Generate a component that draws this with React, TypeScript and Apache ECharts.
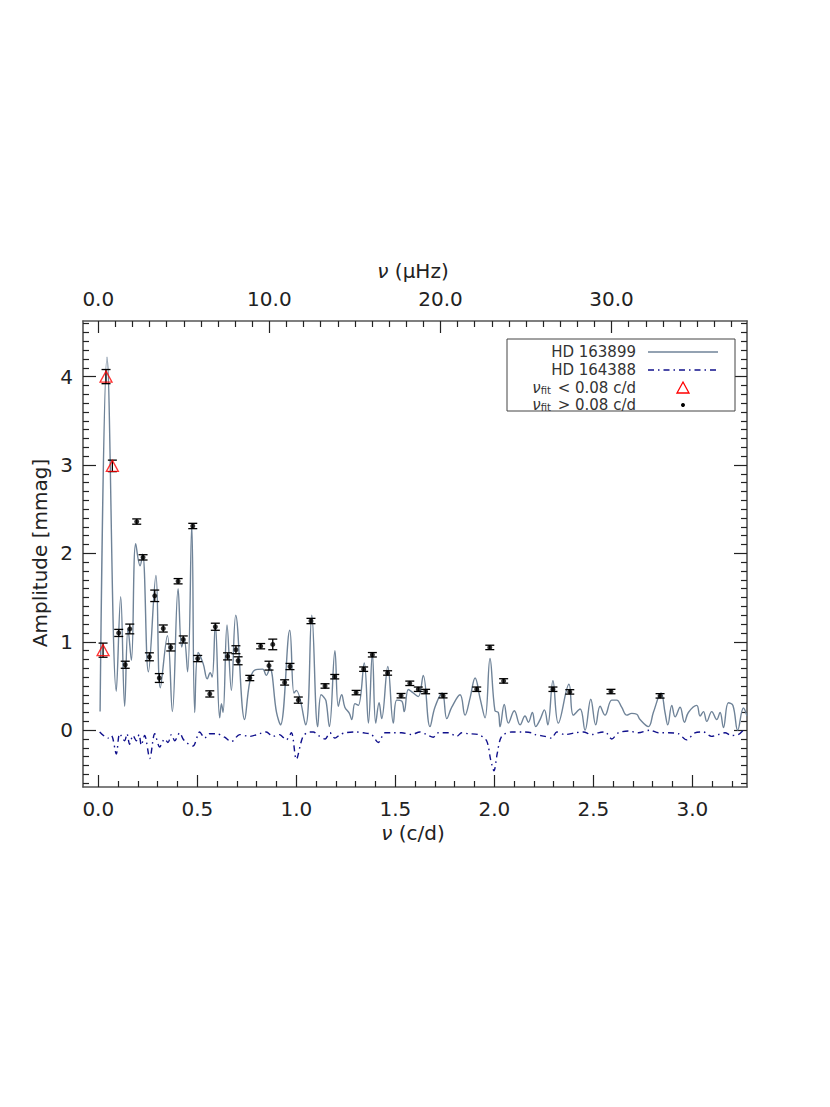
import React, { useEffect, useRef } from "react";
import * as echarts from "echarts";

// ---------- data ----------
// HD 163899 amplitude spectrum (frequency c/d, amplitude mmag)
const SPEC_FREQ = [
  0.009, 0.044, 0.091, 0.113, 0.133, 0.15, 0.167, 0.189, 0.211, 0.224,
  0.253, 0.291, 0.313, 0.349, 0.374, 0.403, 0.421, 0.433, 0.451, 0.472,
  0.487, 0.504, 0.53, 0.55, 0.565, 0.575, 0.591, 0.613, 0.622, 0.63,
  0.65, 0.672, 0.694, 0.739, 0.765, 0.79, 0.83, 0.848, 0.866, 0.9,
  0.92, 0.967, 0.988, 1.0, 1.047, 1.078, 1.108, 1.125, 1.14, 1.15,
  1.167, 1.195, 1.212, 1.229, 1.245, 1.268, 1.28, 1.296, 1.313, 1.343,
  1.364, 1.384, 1.401, 1.418, 1.431, 1.462, 1.49, 1.507, 1.532, 1.545,
  1.566, 1.591, 1.616, 1.641, 1.675, 1.7, 1.737, 1.76, 1.785, 1.827,
  1.852, 1.877, 1.903, 1.928, 1.953, 1.978, 2.003, 2.02, 2.029, 2.05,
  2.071, 2.101, 2.13, 2.155, 2.172, 2.192, 2.209, 2.231, 2.253, 2.27,
  2.296, 2.323, 2.377, 2.399, 2.433, 2.458, 2.487, 2.512, 2.534, 2.559,
  2.593, 2.618, 2.643, 2.669, 2.694, 2.719, 2.736, 2.778, 2.803, 2.842,
  2.862, 2.876, 2.896, 2.913, 2.938, 2.96, 2.98, 3.022, 3.039, 3.056,
  3.073, 3.098, 3.123, 3.14, 3.157, 3.182, 3.205, 3.229, 3.258, 3.276,
];
const SPEC_AMP = [
  0.21, 4.22, 0.44, 1.51, 0.27, 1.15, 0.79, 2.11, 1.86, 1.99,
  0.66, 1.75, 0.48, 1.07, 0.21, 1.6, 0.94, 1.04, 0.66, 2.32,
  0.2, 0.88, 0.75, 0.58, 0.65, 0.6, 1.2, 0.14, 0.3, 0.2,
  1.19, 0.45, 1.3, 0.12, 0.55, 0.68, 0.69, 0.62, 0.7, 0.2,
  0.06, 1.13, 0.42, 0.45, 0.06, 1.3, 0.04, 0.4, 0.37, 0.33,
  0.04, 0.9, 0.27, 0.4, 0.26, 0.19, 0.12, 0.3, 0.28, 0.76,
  0.08, 0.87, 0.08, 0.31, 0.13, 0.72, 0.08, 0.34, 0.33, 0.21,
  0.46, 0.42, 0.38, 0.62, 0.04, 0.26, 0.42, 0.13, 0.26, 0.4,
  0.17, 0.36, 0.59, 0.36, 0.14, 0.81, 0.22, 0.2, 0.04, 0.29,
  0.08, 0.22, 0.06, 0.16, 0.09, 0.2, 0.04, 0.12, 0.23, 0.06,
  0.56, 0.08, 0.52, 0.17, 0.24, 0.0, 0.35, 0.06, 0.27, 0.17,
  0.34, 0.34, 0.26, 0.17, 0.19, 0.18, 0.12, 0.04, 0.2, 0.42,
  0.2, 0.06, 0.28, 0.15, 0.26, 0.09, 0.2, 0.28, 0.16, 0.21,
  0.1, 0.21, 0.12, 0.2, 0.03, 0.31, 0.28, 0.0, 0.25, 0.16,
];

// HD 164388 comparison spectrum (plotted negative)
const REF_FREQ = [
  0.007, 0.049, 0.066, 0.091, 0.108, 0.133, 0.145, 0.158, 0.175, 0.192,
  0.206, 0.217, 0.234, 0.26, 0.285, 0.31, 0.335, 0.352, 0.369, 0.386,
  0.411, 0.428, 0.445, 0.478, 0.512, 0.537, 0.562, 0.596, 0.638, 0.672,
  0.714, 0.764, 0.815, 0.848, 0.882, 0.915, 0.949, 0.975, 1.0, 1.034,
  1.068, 1.086, 1.111, 1.145, 1.17, 1.195, 1.221, 1.246, 1.296, 1.338,
  1.38, 1.414, 1.448, 1.49, 1.532, 1.582, 1.624, 1.658, 1.692, 1.717,
  1.768, 1.81, 1.835, 1.869, 1.919, 1.961, 1.981, 1.998, 2.015, 2.037,
  2.088, 2.138, 2.189, 2.206, 2.256, 2.29, 2.315, 2.357, 2.408, 2.45,
  2.492, 2.525, 2.559, 2.593, 2.626, 2.677, 2.727, 2.786, 2.828, 2.879,
  2.929, 2.971, 3.013, 3.055, 3.097, 3.131, 3.165, 3.198, 3.232, 3.257,
];
const REF_AMP = [
  -0.02, -0.09, -0.06, -0.27, -0.04, -0.12, -0.04, -0.16, -0.06, -0.12,
  -0.05, -0.17, -0.06, -0.32, -0.04, -0.19, -0.1, -0.14, -0.05, -0.12,
  -0.03, -0.1, -0.14, -0.18, -0.02, -0.09, -0.04, -0.04, -0.08, -0.13,
  -0.05, -0.07, -0.04, -0.02, -0.07, -0.05, -0.11, -0.03, -0.33, -0.07,
  -0.02, -0.02, -0.06, -0.1, -0.03, -0.09, -0.05, -0.03, -0.02, -0.03,
  -0.05, -0.14, -0.03, -0.03, -0.03, -0.05, -0.02, -0.05, -0.08, -0.03,
  -0.03, -0.07, -0.03, -0.04, -0.05, -0.12, -0.33, -0.46, -0.26, -0.07,
  -0.02, -0.02, -0.03, -0.05, -0.07, -0.09, -0.02, -0.05, -0.03, -0.02,
  -0.05, -0.03, -0.02, -0.1, -0.03, -0.01, -0.03, 0.0, -0.03, -0.03,
  -0.04, -0.11, -0.03, -0.02, -0.07, -0.05, -0.03, -0.06, -0.05, 0.0,
];

// fitted frequencies below 0.08 c/d (red triangles)
const LOW_FREQ = [0.024, 0.039, 0.071];
const LOW_AMP = [0.905, 4.0, 2.99];
const LOW_ERR = [0.08, 0.08, 0.065];

// fitted frequencies above 0.08 c/d (black dots)
const HIGH_FREQ = [
  0.103, 0.136, 0.159, 0.194, 0.226, 0.258, 0.285, 0.308, 0.328, 0.366,
  0.403, 0.429, 0.477, 0.502, 0.563, 0.591, 0.653, 0.695, 0.706, 0.765,
  0.82, 0.862, 0.881, 0.941, 0.968, 1.01, 1.074, 1.145, 1.194, 1.302,
  1.34, 1.384, 1.461, 1.529, 1.573, 1.616, 1.653, 1.741, 1.911, 1.977,
  2.047, 2.296, 2.381, 2.589, 2.837,
];
const HIGH_AMP = [
  1.1, 0.74, 1.145, 2.36, 1.955, 0.83, 1.52, 0.59, 1.15, 0.936,
  1.685, 1.026, 2.31, 0.81, 0.41, 1.17, 0.835, 0.91, 0.785, 0.59,
  0.95, 0.73, 0.97, 0.54, 0.72, 0.34, 1.235, 0.5, 0.605, 0.425,
  0.69, 0.853, 0.647, 0.39, 0.53, 0.463, 0.437, 0.39, 0.463, 0.936,
  0.557, 0.463, 0.433, 0.437, 0.388,
];
const HIGH_ERR = [
  0.04, 0.04, 0.055, 0.03, 0.03, 0.045, 0.065, 0.05, 0.04, 0.04,
  0.03, 0.04, 0.03, 0.035, 0.035, 0.04, 0.04, 0.045, 0.045, 0.03,
  0.03, 0.05, 0.06, 0.03, 0.035, 0.035, 0.03, 0.025, 0.025, 0.025,
  0.025, 0.025, 0.025, 0.025, 0.025, 0.025, 0.025, 0.025, 0.025, 0.025,
  0.025, 0.025, 0.025, 0.025, 0.025,
];

// axis ticks
const X_MAJOR = [0, 0.5, 1.0, 1.5, 2.0, 2.5, 3.0];
const MU_MAJOR = [0, 10, 20, 30];
const Y_MAJOR = [0, 1, 2, 3, 4];

const XMIN = -0.0773;
const XMAX = 3.276;
const CD_TO_MUHZ = 1e6 / 86400;
const YMIN = -0.643;
const YMAX = 4.629;

const FONT = "DejaVu Sans";
const TEXT_COLOR = "#222";
const SPEC_COLOR = "#6f8398";
const REF_COLOR = "#10108c";

function minorList(from: number, to: number, step: number, skipEvery: number): number[] {
  const out: number[] = [];
  for (let i = from; i <= to; i++) {
    if (i % skipEvery === 0) continue;
    out.push(Math.round(i * step * 1000) / 1000);
  }
  return out;
}

const X_MINOR = minorList(1, 32, 0.1, 5);
const MU_MINOR = minorList(1, 37, 1, 10);
const Y_MINOR = minorList(-6, 46, 0.1, 10);

function App() {
  const ref = useRef<HTMLDivElement>(null);

  useEffect(() => {
    if (!ref.current) return;
    const chart = echarts.init(ref.current, null, { renderer: "svg" });

    const axisLine = { show: true, onZero: false, lineStyle: { color: "#555", width: 1.6 } };
    const tickLine = { color: "#222", width: 1.2 };
    const label = { fontFamily: FONT, fontSize: 20, color: TEXT_COLOR };

    const xMajor = (pos: string, min: number, max: number, vals: number[], showLabel: boolean) => ({
      type: "value",
      position: pos,
      min,
      max,
      axisLine,
      axisTick: { show: true, inside: true, length: 12, customValues: vals, lineStyle: tickLine },
      axisLabel: showLabel
        ? { show: true, customValues: vals, formatter: (v: number) => v.toFixed(1), margin: 12, ...label }
        : { show: false },
      splitLine: { show: false },
    });
    const xMinor = (pos: string, min: number, max: number, vals: number[]) => ({
      type: "value",
      position: pos,
      min,
      max,
      axisLine: { show: false, onZero: false },
      axisTick: { show: true, inside: true, length: 6, customValues: vals, lineStyle: tickLine },
      axisLabel: { show: false },
      splitLine: { show: false },
    });
    const yMajor = (pos: string, showLabel: boolean) => ({
      type: "value",
      position: pos,
      min: YMIN,
      max: YMAX,
      axisLine,
      axisTick: { show: true, inside: true, length: 13, customValues: Y_MAJOR, lineStyle: tickLine },
      axisLabel: showLabel
        ? { show: true, customValues: Y_MAJOR, formatter: (v: number) => String(Math.round(v)), margin: 10, ...label }
        : { show: false },
      splitLine: { show: false },
    });
    const yMinor = (pos: string) => ({
      type: "value",
      position: pos,
      min: YMIN,
      max: YMAX,
      axisLine: { show: false, onZero: false },
      axisTick: { show: true, inside: true, length: 6, customValues: Y_MINOR, lineStyle: tickLine },
      axisLabel: { show: false },
      splitLine: { show: false },
    });

    const errData: number[][] = [];
    LOW_FREQ.forEach((f, i) => errData.push([f, LOW_AMP[i], LOW_ERR[i]]));
    HIGH_FREQ.forEach((f, i) => errData.push([f, HIGH_AMP[i], HIGH_ERR[i]]));

    const legendX = 507;
    const legendY = 339;
    const rowY = [352, 370, 388, 405];
    const textRight = 636;
    const legendFont = { fontFamily: FONT, fontSize: 15, fill: "#333" };
    const nuRich = {
      nu: { fontFamily: FONT, fontSize: 15, fontStyle: "italic", fill: "#333", lineHeight: 14 },
      sub: { fontFamily: FONT, fontSize: 10, fill: "#333", lineHeight: 8, verticalAlign: "bottom", padding: [0, 2, 0, 0] },
      t: { fontFamily: FONT, fontSize: 15, fill: "#333", lineHeight: 14 },
    };

    chart.setOption({
      animation: false,
      backgroundColor: "#fff",
      grid: { left: 83, right: 83, top: 321, bottom: 320, containLabel: false },
      xAxis: [
        xMajor("bottom", XMIN, XMAX, X_MAJOR, true),
        xMinor("bottom", XMIN, XMAX, X_MINOR),
        xMajor("top", XMIN * CD_TO_MUHZ, XMAX * CD_TO_MUHZ, MU_MAJOR, true),
        xMinor("top", XMIN * CD_TO_MUHZ, XMAX * CD_TO_MUHZ, MU_MINOR),
      ],
      yAxis: [yMajor("left", true), yMinor("left"), yMajor("right", false), yMinor("right")],
      series: [
        {
          type: "line",
          name: "HD 163899",
          xAxisIndex: 0,
          yAxisIndex: 0,
          data: SPEC_FREQ.map((f, i) => [f, SPEC_AMP[i]]),
          smooth: 0.4,
          symbol: "none",
          lineStyle: { color: SPEC_COLOR, width: 1.4 },
          z: 2,
        },
        {
          type: "line",
          name: "HD 164388",
          xAxisIndex: 0,
          yAxisIndex: 0,
          data: REF_FREQ.map((f, i) => [f, REF_AMP[i]]),
          smooth: 0.3,
          symbol: "none",
          lineStyle: { color: REF_COLOR, width: 1.4, type: [6, 4, 1.5, 4] },
          z: 2,
        },
        {
          type: "custom",
          name: "errors",
          xAxisIndex: 0,
          yAxisIndex: 0,
          data: errData,
          encode: { x: 0, y: 1 },
          z: 4,
          renderItem: (_params: any, api: any) => {
            const x = api.value(0);
            const y = api.value(1);
            const e = api.value(2);
            const top = api.coord([x, y + e]);
            const bot = api.coord([x, y - e]);
            const hw = 4.5;
            const st = { stroke: "#000", lineWidth: 1.3 };
            return {
              type: "group",
              children: [
                { type: "line", shape: { x1: top[0], y1: top[1], x2: bot[0], y2: bot[1] }, style: st },
                { type: "line", shape: { x1: top[0] - hw, y1: top[1], x2: top[0] + hw, y2: top[1] }, style: st },
                { type: "line", shape: { x1: bot[0] - hw, y1: bot[1], x2: bot[0] + hw, y2: bot[1] }, style: st },
              ],
            };
          },
        },
        {
          type: "scatter",
          name: "low",
          xAxisIndex: 0,
          yAxisIndex: 0,
          data: LOW_FREQ.map((f, i) => [f, LOW_AMP[i]]),
          symbol: "triangle",
          symbolSize: [12, 11],
          itemStyle: { color: "rgba(255,255,255,0)", borderColor: "#ff0000", borderWidth: 1.3 },
          z: 5,
        },
        {
          type: "scatter",
          name: "high",
          xAxisIndex: 0,
          yAxisIndex: 0,
          data: HIGH_FREQ.map((f, i) => [f, HIGH_AMP[i]]),
          symbol: "circle",
          symbolSize: 5,
          itemStyle: { color: "#000" },
          z: 5,
        },
      ],
      graphic: [
        {
          type: "text",
          x: 413,
          y: 271,
          style: {
            text: "{i|ν} (μHz)",
            align: "center",
            verticalAlign: "middle",
            fontFamily: FONT,
            fontSize: 20,
            fill: TEXT_COLOR,
            rich: { i: { fontFamily: FONT, fontSize: 20, fontStyle: "italic", fill: TEXT_COLOR } },
          },
        },
        {
          type: "text",
          x: 413,
          y: 833,
          style: {
            text: "{i|ν} (c/d)",
            align: "center",
            verticalAlign: "middle",
            fontFamily: FONT,
            fontSize: 20,
            fill: TEXT_COLOR,
            rich: { i: { fontFamily: FONT, fontSize: 20, fontStyle: "italic", fill: TEXT_COLOR } },
          },
        },
        {
          type: "text",
          x: 40,
          y: 553,
          rotation: Math.PI / 2,
          style: {
            text: "Amplitude [mmag]",
            align: "center",
            verticalAlign: "middle",
            fontFamily: FONT,
            fontSize: 20,
            fill: TEXT_COLOR,
          },
        },
        {
          type: "rect",
          z: 10,
          shape: { x: legendX, y: legendY, width: 228, height: 72 },
          style: { fill: "#fff", stroke: "#444", lineWidth: 1 },
        },
        {
          type: "text",
          z: 11,
          x: textRight,
          y: rowY[0],
          style: { text: "HD 163899", align: "right", verticalAlign: "middle", ...legendFont },
        },
        {
          type: "line",
          z: 11,
          shape: { x1: 648, y1: rowY[0], x2: 718, y2: rowY[0] },
          style: { stroke: SPEC_COLOR, lineWidth: 1.4 },
        },
        {
          type: "text",
          z: 11,
          x: textRight,
          y: rowY[1],
          style: { text: "HD 164388", align: "right", verticalAlign: "middle", ...legendFont },
        },
        {
          type: "line",
          z: 11,
          shape: { x1: 648, y1: rowY[1], x2: 718, y2: rowY[1] },
          style: { stroke: REF_COLOR, lineWidth: 1.4, lineDash: [6, 4, 1.5, 4] },
        },
        {
          type: "text",
          z: 11,
          x: textRight,
          y: rowY[2],
          style: {
            text: "{nu|ν}{sub|fit}{t| < 0.08 c/d}",
            align: "right",
            verticalAlign: "middle",
            ...legendFont,
            rich: nuRich,
          },
        },
        {
          type: "polygon",
          z: 11,
          shape: { points: [[683, rowY[2] - 6], [689, rowY[2] + 5], [677, rowY[2] + 5]] },
          style: { fill: "none", stroke: "#ff0000", lineWidth: 1.3 },
        },
        {
          type: "text",
          z: 11,
          x: textRight,
          y: rowY[3],
          style: {
            text: "{nu|ν}{sub|fit}{t| > 0.08 c/d}",
            align: "right",
            verticalAlign: "middle",
            ...legendFont,
            rich: nuRich,
          },
        },
        {
          type: "circle",
          z: 11,
          shape: { cx: 683, cy: rowY[3], r: 2 },
          style: { fill: "#000" },
        },
      ],
    });

    return () => chart.dispose();
  }, []);

  return (
    <div
      ref={ref}
      style={{ position: "fixed", left: 0, top: 0, width: 830, height: 1107, background: "#fff" }}
    />
  );
}

export default App;
